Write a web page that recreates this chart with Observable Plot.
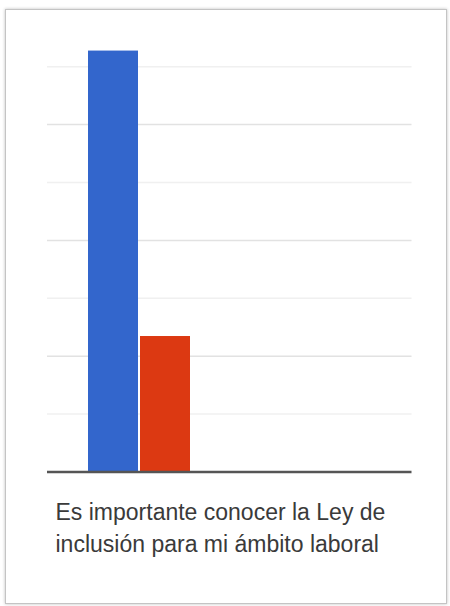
<!DOCTYPE html>
<html>
<head>
<meta charset="utf-8">
<script src="https://cdn.jsdelivr.net/npm/d3@7"></script>
<script src="https://cdn.jsdelivr.net/npm/@observablehq/plot@0.6"></script>
<style>
  html, body { margin: 0; padding: 0; background: #fff; }
  #wrap { position: relative; width: 450px; height: 606px; overflow: hidden; }
  #card { position: absolute; left: 5px; top: 9px; width: 440px; height: 593px;
          border: 1.5px solid #c4c4c4; box-shadow: 0 0 3px rgba(0,0,0,0.25); background: #fff; }
  #chart { position: absolute; left: 0; top: 0; }
  #chart svg { background: transparent; }
</style>
</head>
<body>
<div id="wrap"><div id="card"></div><div id="chart"></div></div>
<script>
const category = "Es importante conocer la Ley de\ninclusión para mi ámbito laboral";
const series = ["Sí", "No"];
const values = [72.7, 23.4];
const colors = ["#3366cc", "#dc3912"];
const minorTicks = [10, 30, 50, 70];
const majorTicks = [20, 40, 60];

const data = series.map((s, i) => ({series: s, value: values[i]}));

const chart = Plot.plot({
  width: 450,
  height: 606,
  marginLeft: 47,
  marginRight: 38.5,
  marginTop: 8.3,
  marginBottom: 134.5,
  style: {background: "transparent", fontFamily: "Liberation Sans, Arial, sans-serif"},
  x: {type: "band", domain: series, range: [88, 190], paddingInner: 0.04, paddingOuter: 0, axis: null},
  y: {domain: [0, 80], axis: null},
  color: {domain: series, range: colors},
  marks: [
    Plot.ruleY(minorTicks, {stroke: "#f0f0f0", strokeWidth: 1.5}),
    Plot.ruleY(majorTicks, {stroke: "#e2e2e2", strokeWidth: 1.5}),
    Plot.barY(data, {x: "series", y: "value", fill: "series"}),
    Plot.ruleY([0], {stroke: "#555", strokeWidth: 2.5}),
    Plot.text([category], {
      text: d => d,
      frameAnchor: "bottom-left",
      textAnchor: "start",
      lineAnchor: "top",
      lineHeight: 1.39,
      dx: 8,
      dy: 25.5,
      fontSize: 23,
      fill: "#3a3a3a"
    })
  ]
});
document.getElementById("chart").appendChild(chart);
</script>
</body>
</html>
